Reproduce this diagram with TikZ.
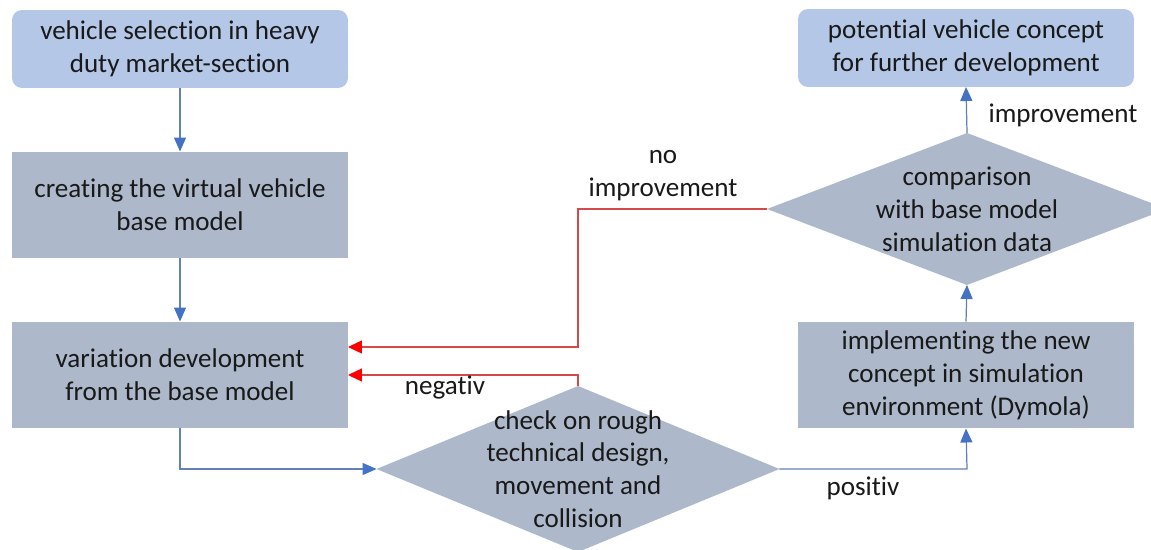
\documentclass[tikz,border=0pt]{standalone}
\usepackage{fontspec}
\setmainfont{Carlito}[Ligatures=NoCommon]
\usetikzlibrary{arrows.meta,shapes.geometric}
\definecolor{boxblue}{HTML}{B4C7E7}
\definecolor{boxgray}{HTML}{ADB9CA}
\definecolor{lineblue}{HTML}{6580B4}
\definecolor{tipblue}{HTML}{4472C4}
\definecolor{linered}{HTML}{D24A4A}
\definecolor{tipred}{HTML}{FF0000}
\tikzset{
  x=0.02cm, y=-0.02cm,
  every node/.style={font=\fontsize{15.4}{18.7}\selectfont, text=black!90},
  roundbox/.style={fill=boxblue, rounded corners=0.2cm, minimum width=6.72cm, minimum height=1.56cm, align=center, inner sep=0, outer sep=0},
  graybox/.style={fill=boxgray, minimum width=6.72cm, minimum height=2.14cm, align=center, inner sep=0, outer sep=0},
  decision/.style={diamond, fill=boxgray, inner sep=0, outer sep=0},
  bluearrow/.style={draw=lineblue, line width=0.7pt, -{Triangle[length=0.28cm, width=0.24cm, color=tipblue]}},
  redarrow/.style={draw=linered, line width=0.7pt, -{Triangle[length=0.28cm, width=0.26cm, color=tipred]}},
  lbl/.style={align=center, inner sep=0}
}
\begin{document}
\begin{tikzpicture}
\path[use as bounding box, clip] (0,0) rectangle (1151,550);
\fill[white] (0,0) rectangle (1151,550);

\node[roundbox] (b1) at (180,49) {vehicle selection in heavy\\duty market-section};
\node[graybox] (b2) at (180,205) {creating the virtual vehicle\\base model};
\node[graybox] (b3) at (180,375) {variation development\\from the base model};
\node[graybox] (b4) at (966,375) {implementing the new\\concept in simulation\\environment (Dymola)};
\node[roundbox] (b5) at (966,48) {potential vehicle concept\\for further development};

\node[decision, minimum width=8.06cm, minimum height=3.32cm] (d1) at (578,469) {};
\node[lbl] (t1) at (578,469) {check on rough\\technical design,\\movement and\\collision};
\node[decision, minimum width=8.0cm, minimum height=3.04cm] (d2) at (967,209) {};
\node[lbl] (t2) at (967,209) {comparison\\with base model\\simulation data};

\coordinate (c1) at (180,469);
\coordinate (c2) at (967,469);
\coordinate (r1) at (578,209);
\coordinate (r2) at (578,347);
\coordinate (r3) at (578,375);

\draw[bluearrow] (b1.south) -- (b2.north);
\draw[bluearrow] (b2.south) -- (b3.north);
\draw[bluearrow] (b3.south) -- (c1) -- (d1.west);
\draw[bluearrow] (d1.east) -- (c2) -- (b4.south);
\draw[bluearrow] (b4.north) -- (d2.south);
\draw[bluearrow] (d2.north) -- (b5.south);

\draw[redarrow] (d2.west) -- (r1) -- (r2) -- (b3.east |- r2);
\draw[redarrow] (d1.north) -- (r3) -- (b3.east |- r3);

\node[lbl] (l1) at (663,176) {no\\improvement};
\node[lbl] (l2) at (445,388) {negativ};
\node[lbl] (l3) at (863,488) {positiv};
\node[lbl] (l4) at (1063,115) {improvement};
\end{tikzpicture}
\end{document}
